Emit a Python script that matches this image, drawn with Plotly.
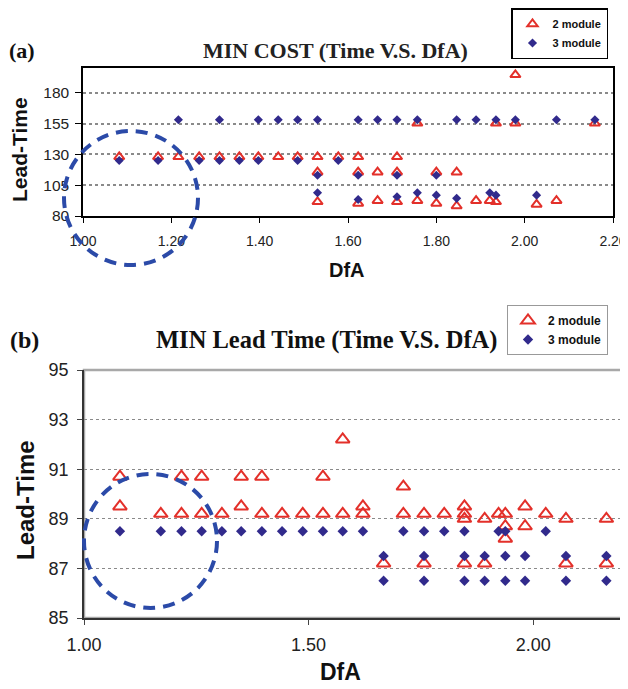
import plotly.graph_objects as go

# ---------------- Panel (a): MIN COST ----------------
a_dfa_2mod = [1.082, 1.170, 1.216, 1.263, 1.309, 1.354, 1.397, 1.442, 1.486,
              1.531, 1.531, 1.531, 1.578, 1.623, 1.623, 1.623, 1.667, 1.667,
              1.711, 1.711, 1.711, 1.757, 1.757, 1.800, 1.800, 1.846, 1.846,
              1.890, 1.921, 1.935, 1.935, 1.979, 1.979, 2.027, 2.072, 2.159]
a_lt_2mod = [128, 128, 128, 128, 128, 128, 128, 128, 128,
             128, 115.5, 91.5, 128, 128, 115.5, 90.2, 115.5, 92.4,
             128, 115.5, 91.5, 155.2, 92.4, 115.5, 90.2, 115.5, 88.1,
             92.4, 92.4, 155.2, 91.5, 194.5, 155.2, 89.4, 92.4, 155.2]

a_dfa_3mod = [1.082, 1.170, 1.216, 1.263, 1.309, 1.309, 1.354, 1.397, 1.397,
              1.442, 1.486, 1.486, 1.531, 1.531, 1.531, 1.578, 1.623, 1.623,
              1.623, 1.667, 1.711, 1.711, 1.711, 1.757, 1.757, 1.800, 1.800,
              1.846, 1.846, 1.890, 1.921, 1.935, 1.935, 1.979, 2.027, 2.072, 2.159]
a_lt_3mod = [125, 125, 158, 125, 158, 125, 125, 158, 125,
             158, 158, 125, 158, 113, 98.8, 125, 158, 113,
             93.4, 158, 158, 113, 95.6, 158, 98.8, 113, 96.9,
             158, 94.3, 158, 98.8, 158, 96.9, 158, 96.9, 158, 158]

a_yticks = [80, 105, 130, 155, 180]
a_xticks = [1.00, 1.20, 1.40, 1.60, 1.80, 2.00, 2.20]

# ---------------- Panel (b): MIN Lead Time ----------------
b_dfa_2mod = [1.080, 1.080, 1.171, 1.217, 1.217, 1.262, 1.262, 1.307, 1.350,
              1.350, 1.396, 1.396, 1.441, 1.487, 1.532, 1.532, 1.576, 1.576,
              1.621, 1.621, 1.667, 1.711, 1.711, 1.757, 1.757, 1.802, 1.847,
              1.847, 1.847, 1.847, 1.892, 1.892, 1.923, 1.938, 1.938, 1.938,
              1.982, 1.982, 2.028, 2.073, 2.073, 2.163, 2.163]
b_lt_2mod = [90.7, 89.5, 89.2, 90.7, 89.2, 90.7, 89.2, 89.2, 90.7,
             89.5, 90.7, 89.2, 89.2, 89.2, 90.7, 89.2, 92.2, 89.2,
             89.5, 89.2, 87.2, 90.3, 89.2, 89.2, 87.2, 89.2, 89.5,
             89.2, 89.0, 87.2, 89.0, 87.2, 89.2, 89.2, 88.7, 88.2,
             89.5, 88.7, 89.2, 89.0, 87.2, 89.0, 87.2]

b_dfa_3mod = [1.080, 1.171, 1.217, 1.262, 1.307, 1.350, 1.396, 1.441, 1.487,
              1.532, 1.576, 1.621, 1.667, 1.667, 1.711, 1.757, 1.757, 1.757,
              1.802, 1.847, 1.847, 1.847, 1.892, 1.892, 1.923, 1.938, 1.938,
              1.938, 1.982, 1.982, 2.028, 2.073, 2.073, 2.163, 2.163]
b_lt_3mod = [88.5, 88.5, 88.5, 88.5, 88.5, 88.5, 88.5, 88.5, 88.5,
             88.5, 88.5, 88.5, 87.5, 86.5, 88.5, 88.5, 87.5, 86.5,
             88.5, 88.5, 87.5, 86.5, 87.5, 86.5, 88.5, 88.5, 87.5,
             86.5, 87.5, 86.5, 88.5, 87.5, 86.5, 87.5, 86.5]

b_yticks = [85, 87, 89, 91, 93, 95]
b_xticks = [1.00, 1.50, 2.00]

series_names = ["2 module", "3 module"]

RED = "#e3302a"
NAVY = "#312a8c"
BLUE_DASH = "#2b4aa8"
SANS = "Liberation Sans, Arial, sans-serif"
SERIF = "Liberation Serif, Times New Roman, serif"

W, H = 628, 689
OFF = 8  # page body margin: figure starts 8 px right/down in the browser


def px_x(p):
    return (p - OFF) / W


def px_y(p):
    return 1 - (p - OFF) / H


fig = go.Figure()

# panel (a)
fig.add_trace(go.Scatter(x=a_dfa_2mod, y=a_lt_2mod, mode="markers", name=series_names[0],
                         xaxis="x", yaxis="y", legend="legend",
                         marker=dict(symbol="triangle-up-open", size=9, color=RED,
                                     line=dict(width=2, color=RED))))
fig.add_trace(go.Scatter(x=a_dfa_3mod, y=a_lt_3mod, mode="markers", name=series_names[1],
                         xaxis="x", yaxis="y", legend="legend",
                         marker=dict(symbol="diamond", size=7, color=NAVY)))

# panel (b)
fig.add_trace(go.Scatter(x=b_dfa_2mod, y=b_lt_2mod, mode="markers", name=series_names[0],
                         xaxis="x2", yaxis="y2", legend="legend2",
                         marker=dict(symbol="triangle-up-open", size=12, color=RED,
                                     line=dict(width=2, color=RED))))
fig.add_trace(go.Scatter(x=b_dfa_3mod, y=b_lt_3mod, mode="markers", name=series_names[1],
                         xaxis="x2", yaxis="y2", legend="legend2",
                         marker=dict(symbol="diamond", size=8, color=NAVY)))

axis_font_ax = dict(family=SANS, size=14, color="#222")
axis_font_ay = dict(family=SANS, size=15.5, color="#222")
axis_font_b = dict(family=SANS, size=18, color="#222")

fig.update_layout(
    width=W, height=H, autosize=False,
    margin=dict(l=0, r=0, t=0, b=0, autoexpand=False),
    paper_bgcolor="white", plot_bgcolor="white",
    xaxis=dict(domain=[px_x(83), px_x(613)], anchor="y", range=[1.0, 2.2],
               tickvals=a_xticks, tickformat=".2f", ticks="outside", ticklen=5,
               tickcolor="black", showline=True, linecolor="black", linewidth=1.5,
               mirror=True, showgrid=False, zeroline=False, tickfont=axis_font_ax,
               ticklabelstandoff=6, automargin=False),
    yaxis=dict(domain=[px_y(216), px_y(68)], anchor="x", range=[80, 200],
               tickvals=a_yticks, ticks="outside", ticklen=6, tickcolor="black",
               showline=True, linecolor="black", linewidth=1.5, mirror=True,
               showgrid=True, gridcolor="#8a8a8a", griddash="dot", gridwidth=1.5,
               zeroline=False, tickfont=axis_font_ay, ticklabelstandoff=3,
               automargin=False),
    xaxis2=dict(domain=[px_x(84), px_x(623)], anchor="y2", range=[1.0, 2.2],
                tickvals=b_xticks, tickformat=".2f", ticks="outside", ticklen=5,
                tickcolor="#444", showline=True, linecolor="#333", linewidth=1.5,
                mirror=False, showgrid=False, zeroline=False, tickfont=axis_font_b,
                ticklabelstandoff=5, automargin=False),
    yaxis2=dict(domain=[px_y(618), px_y(370)], anchor="x2", range=[85, 95],
                tickvals=b_yticks, ticks="outside", ticklen=5, tickcolor="#444",
                showline=True, linecolor="#333", linewidth=1.5, mirror=False,
                showgrid=True, gridcolor="#8a8a8a", griddash="dot", gridwidth=1,
                zeroline=False, tickfont=axis_font_b, ticklabelstandoff=5,
                automargin=False),
    legend=dict(x=px_x(608), y=px_y(8), xanchor="right", yanchor="top",
                bgcolor="white", bordercolor="black", borderwidth=1.5,
                font=dict(family=SANS, size=11, color="#111", weight="bold"),
                itemwidth=30, tracegroupgap=2),
    legend2=dict(x=px_x(608), y=px_y(305), xanchor="right", yanchor="top",
                 bgcolor="white", bordercolor="#999", borderwidth=1,
                 font=dict(family=SANS, size=12, color="#111", weight="bold"),
                 itemwidth=30, tracegroupgap=2),
    showlegend=True,
)

# (b) light gray plot frame
fig.add_shape(type="rect", xref="x2 domain", yref="y2 domain", x0=0, x1=1, y0=0, y1=1,
              line=dict(color="#a8a8a8", width=2.5), layer="below")

# dashed highlight ellipses
fig.add_shape(type="circle", xref="paper", yref="paper",
              x0=px_x(64), x1=px_x(198), y0=px_y(265), y1=px_y(131),
              line=dict(color=BLUE_DASH, width=4, dash="12px,8px"), layer="above")
fig.add_shape(type="circle", xref="paper", yref="paper",
              x0=px_x(84), x1=px_x(217), y0=px_y(608), y1=px_y(474),
              line=dict(color=BLUE_DASH, width=4, dash="12px,8px"), layer="above")

ann = [
    dict(text="(a)", x=px_x(22), y=px_y(50), font=dict(family=SERIF, size=22, color="#111", weight="bold")),
    dict(text="MIN COST (Time V.S. DfA)", x=px_x(335), y=px_y(51),
         font=dict(family=SERIF, size=22, color="#222", weight="bold")),
    dict(text="Lead-Time", x=px_x(19), y=px_y(150), textangle=-90,
         font=dict(family=SANS, size=21, color="#111", weight="bold")),
    dict(text="DfA", x=px_x(347), y=px_y(270),
         font=dict(family=SANS, size=20, color="#111", weight="bold")),
    dict(text="(b)", x=px_x(24), y=px_y(340), font=dict(family=SERIF, size=24, color="#111", weight="bold")),
    dict(text="MIN Lead Time (Time V.S. DfA)", x=px_x(326), y=px_y(340),
         font=dict(family=SERIF, size=24.5, color="#111", weight="bold")),
    dict(text="Lead-Time", x=px_x(25), y=px_y(500), textangle=-90,
         font=dict(family=SANS, size=24, color="#111", weight="bold")),
    dict(text="DfA", x=px_x(340), y=px_y(672),
         font=dict(family=SANS, size=23, color="#111", weight="bold")),
]
for a in ann:
    fig.add_annotation(xref="paper", yref="paper", showarrow=False,
                       xanchor="center", yanchor="middle", **a)

fig.write_html("out.html")
